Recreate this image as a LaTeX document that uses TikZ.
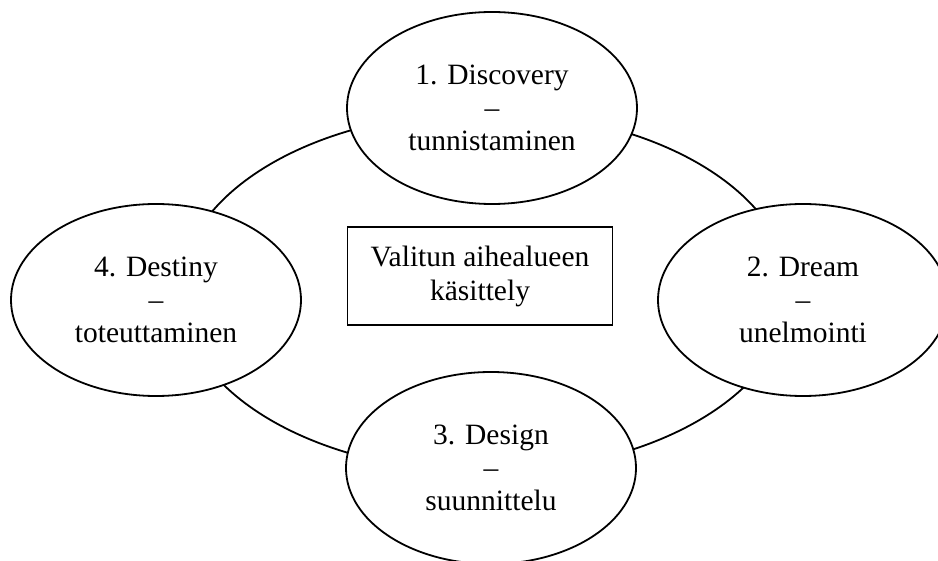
\documentclass[tikz,border=0pt]{standalone}
\usepackage{fontspec}
\setmainfont{Liberation Serif}
\usepackage{tikz}
\usetikzlibrary{shapes.geometric}

\begin{document}
\begin{tikzpicture}[x=1pt, y=-1pt, align=center,
  phase/.style={ellipse, draw=black, line width=1.8pt, fill=white,
    minimum width=290pt, minimum height=192pt, inner sep=0pt,
    font=\fontsize{29.5}{33}\selectfont},
  ring/.style={ellipse, draw=black, line width=1.8pt,
    minimum width=610pt, minimum height=360pt, inner sep=0pt},
  topic/.style={rectangle, draw=black, line width=1.8pt, fill=white,
    minimum width=265pt, minimum height=98pt, inner sep=2pt,
    font=\fontsize{29.5}{34}\selectfont},
]
\clip (0,0) rectangle (938,561);
\useasboundingbox (0,0) rectangle (938,561);

% ====== outer cycle ======
\node[ring] (ring) at (485,292) {};

% ====== centre topic ======
\node[topic] (topic) at (480,276) {Valitun aihealueen\\k\"asittely};

% ====== the four phases ======
\node[phase] (discovery) at (492,108) {1. Discovery\\--\\tunnistaminen};
\node[phase] (dream) at (803,300) {2. Dream\\--\\unelmointi};
\node[phase] (design) at (491,468) {3. Design\\--\\suunnittelu};
\node[phase] (destiny) at (156,300) {4. Destiny\\--\\toteuttaminen};

\end{tikzpicture}
\end{document}
